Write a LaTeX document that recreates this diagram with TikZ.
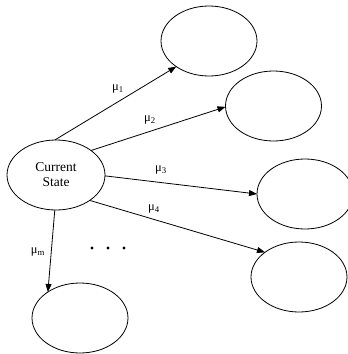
\documentclass[tikz,border=0pt]{standalone}
\usepackage{fontspec}
\setmainfont{Liberation Serif}
\usetikzlibrary{shapes.geometric,arrows.meta}
\begin{document}
\begin{tikzpicture}[x=1pt,y=-1pt,
  state/.style={draw,ellipse,line width=0.8pt,inner sep=0pt,outer sep=0pt,
                minimum width=96pt,minimum height=70pt},
  trans/.style={line width=0.8pt,-{Triangle[length=8pt,width=6pt]}},
  rate/.style={inner sep=0pt,font=\fontsize{12.5}{13}\selectfont},
  dot/.style={circle,fill,inner sep=0pt,minimum size=3.2pt}]
  \useasboundingbox (0,0) rectangle (348,354);
  % current state and its successors
  \node[state,minimum width=98pt,align=center,font=\fontsize{13.5}{15}\selectfont]
    (cs) at (56,175) {Current\\State};
  \node[state] (s1) at (209,41) {};
  \node[state] (s2) at (273.5,106) {};
  \node[state] (s3) at (305,194) {};
  \node[state] (s4) at (299,277) {};
  \node[state] (sm) at (80,318) {};
  % transitions
  \draw[trans] (cs.92) -- (s1.218);
  \draw[trans] (cs.35) -- (s2.181);
  \draw[trans] (cs.-1) -- (s3.180);
  \draw[trans] (cs.-37) -- (s4.144);
  \draw[trans] (cs.-92) -- (sm.141);
  % transition rates
  \node[rate] (r1) at (118,89) {μ\textsubscript{1}};
  \node[rate] (r2) at (150,120) {μ\textsubscript{2}};
  \node[rate] (r3) at (161,170) {μ\textsubscript{3}};
  \node[rate] (r4) at (154,209) {μ\textsubscript{4}};
  \node[rate] (rm) at (38,252) {μ\textsubscript{m}};
  % ellipsis
  \node[dot] (d1) at (92,248) {};
  \node[dot] (d2) at (108,248) {};
  \node[dot] (d3) at (124,248) {};
\end{tikzpicture}
\end{document}
